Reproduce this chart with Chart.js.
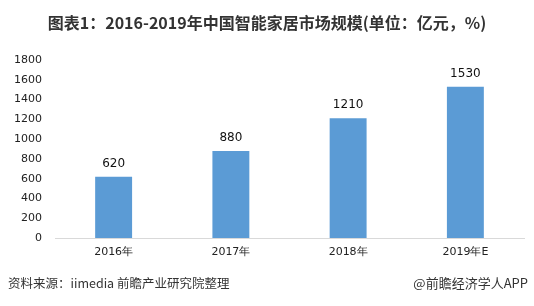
<!DOCTYPE html>
<html>
<head>
<meta charset="utf-8">
<script src="https://cdn.jsdelivr.net/npm/chart.js@4.4.6/dist/chart.umd.min.js"></script>
<style>
  html, body { margin: 0; padding: 0; background: #fff; }
  body { width: 534px; height: 306px; position: relative; overflow: hidden; font-family: "Noto Sans CJK SC", "Noto Sans", sans-serif; }
  #wrap { position: absolute; left: 0; top: 0; width: 534px; height: 306px; }
  .title { position: absolute; left: 0; width: 534px; top: 10px; text-align: center; font-size: 16px; font-weight: bold; color: #333; }
  .src { position: absolute; left: 8px; top: 273px; font-size: 12.5px; color: #333; }
  .app { position: absolute; right: 6px; top: 273px; font-size: 13px; color: #333; }
</style>
</head>
<body>
<div id="wrap"><canvas id="chart" width="534" height="306"></canvas></div>
<div class="title">图表1：2016-2019年中国智能家居市场规模(单位：亿元，%)</div>
<div class="src">资料来源：iimedia 前瞻产业研究院整理</div>
<div class="app">@前瞻经济学人APP</div>
<script>
const years = ['2016年', '2017年', '2018年', '2019年E']
const marketSize = [620, 880, 1210, 1530]
const yTicks = [0, 200, 400, 600, 800, 1000, 1200, 1400, 1600, 1800]

const valueLabels = {
  id: 'valueLabels',
  afterDatasetsDraw(chart) {
    const { ctx } = chart
    const meta = chart.getDatasetMeta(0)
    ctx.save()
    ctx.font = '12px "DejaVu Sans", sans-serif'
    ctx.fillStyle = '#111'
    ctx.textAlign = 'center'
    ctx.textBaseline = 'middle'
    meta.data.forEach((bar, i) => {
      ctx.fillText(String(marketSize[i]), bar.x, bar.y - 13)
    })
    ctx.restore()
  }
}

new Chart(document.getElementById('chart'), {
  type: 'bar',
  data: {
    labels: years,
    datasets: [{
      data: marketSize,
      backgroundColor: '#5b9bd5',
      categoryPercentage: 1,
      barPercentage: 0.315
    }]
  },
  options: {
    responsive: false,
    animation: false,
    layout: { padding: { top: 60, right: 10, left: 0, bottom: 0 } },
    plugins: { legend: { display: false }, tooltip: { enabled: false } },
    scales: {
      x: {
        grid: { display: false, drawTicks: false },
        border: { color: '#d9d9d9' },
        ticks: { color: '#222', font: { size: 11, family: '"DejaVu Sans", sans-serif' }, padding: 8 },
        afterFit(scale) { scale.height = 68 }
      },
      y: {
        min: 0,
        max: 1800,
        afterBuildTicks(scale) { scale.ticks = yTicks.map(v => ({ value: v })) },
        grid: { display: false, drawTicks: false },
        border: { display: false },
        ticks: {
          color: '#222',
          font: { size: 11, family: '"DejaVu Sans", sans-serif' },
          padding: 13,
          callback: (v) => String(v)
        },
        afterFit(scale) { scale.width = 55 }
      }
    }
  },
  plugins: [valueLabels]
})
</script>
</body>
</html>
